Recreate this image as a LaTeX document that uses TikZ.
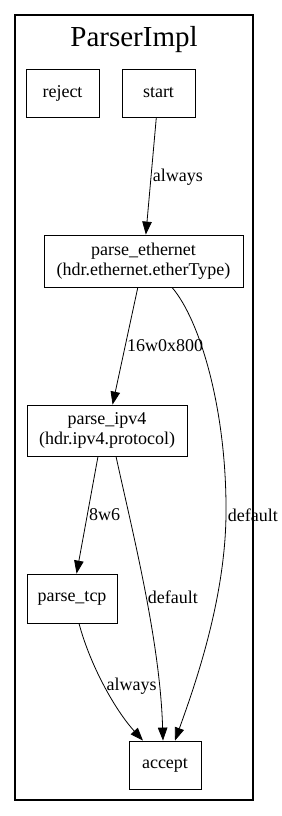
\documentclass[tikz,border=0pt]{standalone}
\usepackage{fontspec}
\setmainfont{Liberation Serif}
\usetikzlibrary{arrows.meta,positioning}

\begin{document}
\begin{tikzpicture}[
    x=1pt, y=-1pt,
    font=\fontsize{18}{20}\selectfont,
    st/.style={
      rectangle, draw, line width=0.8pt,
      inner sep=0pt, text centered, align=center
    },
    arr/.style={-{Triangle[length=13pt,width=9.5pt]}, line width=0.8pt},
    lbl/.style={inner sep=1.5pt},
  ]
    \useasboundingbox (0,0) rectangle (281,816);
    \draw[line width=2.4pt] (15,15) rectangle (253,800);
    \node[anchor=base, font=\fontsize{29}{30}\selectfont] (title) at (134,47) {ParserImpl};

    \node[st, minimum width=73pt, minimum height=48pt]  (reject) at (62.5,93)  {reject};
    \node[st, minimum width=73pt, minimum height=48pt]  (start)  at (158.5,93) {start};
    \node[st, minimum width=199pt, minimum height=52pt] (eth)    at (143.5,261) {parse\_ethernet\\(hdr.ethernet.etherType)};
    \node[st, minimum width=160pt, minimum height=51pt] (ipv4)   at (107,430.5) {parse\_ipv4\\(hdr.ipv4.protocol)};
    \node[st, minimum width=90pt, minimum height=49pt]  (tcp)    at (72,598.5)  {parse\_tcp};
    \node[st, minimum width=72pt, minimum height=48pt]  (accept) at (165,765)   {accept};

    \draw[arr] (start) -- node[lbl, right, pos=0.51] (l1) {always} (eth);
    \draw[arr] (eth)   -- node[lbl, right, pos=0.5] (l2) {16w0x800} (ipv4);
    \draw[arr] ([xshift=28.5pt]eth.south) .. controls (200,320) and (227,410) ..
               (226,515) node[lbl, right] (l3) {default}
               .. controls (225,600) and (195,685) .. ([xshift=10pt]accept.north);
    \draw[arr] ([xshift=-9pt]ipv4.south) -- node[lbl, right, pos=0.5] (l4) {8w6} (tcp);
    \draw[arr] ([xshift=9pt]ipv4.south) .. controls (132,530) and (160,640) ..
               node[lbl, right, pos=0.53] (l5) {default} ([xshift=-2pt]accept.north);
    \draw[arr] ([xshift=7pt]tcp.south) .. controls (90,665) and (115,710) ..
               node[lbl, right, pos=0.5] (l6) {always} ([xshift=-22pt]accept.north);
  \end{tikzpicture}
\end{document}
